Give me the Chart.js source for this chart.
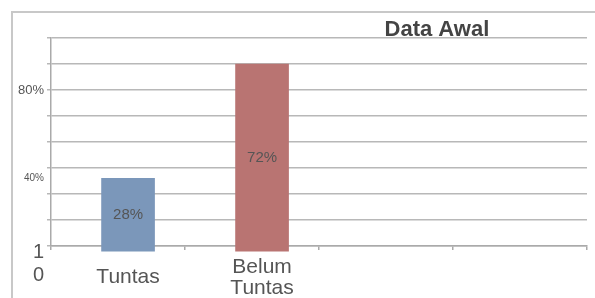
<!DOCTYPE html>
<html>
<head>
<meta charset="utf-8">
<script src="https://cdn.jsdelivr.net/npm/chart.js@4"></script>
<style>
  html, body { margin: 0; padding: 0; background: #fff; }
  #wrap { width: 595px; height: 298px; }
</style>
</head>
<body>
<div id="wrap"><canvas id="chart"></canvas></div>
<script>
const categories = ['Tuntas', ['Belum', 'Tuntas'], '', ''];
const values = [28, 72, null, null];
const barColors = ['#7b97ba', '#b97472'];

// y grid lines and the odd tick labels of the original
const gridValues = [2, 12, 22, 32, 42, 52, 62, 72, 82];
const labelValues = [62, 28, -0.5, -9.5];
const labelTexts = ['80%', '40%', '1', '0'];
const labelSizes = [13, 10, 20, 20];

const title = 'Data Awal';

// bars sit a little right of the category slots in the original
const xShift = 0.075;
const xMin = -0.5 - xShift;
const xMax = categories.length - 0.5 - xShift;

const FONT = '"Liberation Sans", Arial, sans-serif';

const frame = {
    id: 'frame',
    beforeDraw(chart) {
        const ctx = chart.ctx;
        ctx.save();
        ctx.strokeStyle = '#c8c8c8';
        ctx.lineWidth = 2;
        ctx.strokeRect(12, 12, 700, 400);
        ctx.restore();
    }
};

const barText = {
    id: 'barText',
    afterDatasetsDraw(chart) {
        const ctx = chart.ctx;
        const meta = chart.getDatasetMeta(0);
        ctx.save();
        ctx.fillStyle = '#555';
        ctx.font = '15px ' + FONT;
        ctx.textAlign = 'center';
        ctx.textBaseline = 'middle';
        meta.data.forEach((bar, i) => {
            if (values[i] == null) return;
            ctx.fillText(values[i] + '%', bar.x, (bar.y + bar.base) / 2);
        });
        ctx.restore();
    }
};

const titleText = {
    id: 'titleText',
    afterDraw(chart) {
        const a = chart.chartArea;
        const ctx = chart.ctx;
        ctx.save();
        ctx.fillStyle = '#444';
        ctx.font = 'bold 22px ' + FONT;
        ctx.textAlign = 'center';
        ctx.textBaseline = 'middle';
        ctx.fillText(title, a.left + (a.right - a.left) * 0.72, a.top - 8);
        ctx.restore();
    }
};

function tickValue(c) {
    return c && c.tick ? c.tick.value : null;
}

const ctx = document.getElementById('chart').getContext('2d');
new Chart(ctx, {
    type: 'bar',
    data: {
        datasets: [{
            data: categories.map((c, i) => ({ x: i, y: values[i] })),
            backgroundColor: barColors,
            borderWidth: 0,
            barThickness: 53,
            clip: false
        }]
    },
    options: {
        responsive: true,
        maintainAspectRatio: false,
        animation: false,
        layout: { padding: { top: 38, right: 8, left: 0, bottom: 0 } },
        plugins: {
            legend: { display: false },
            tooltip: { enabled: false }
        },
        scales: {
            x: {
                type: 'linear',
                offset: false,
                min: xMin,
                max: xMax,
                afterBuildTicks(scale) {
                    const ticks = [];
                    for (let k = 0; k <= categories.length; k++) ticks.push({ value: xMin + k });
                    categories.forEach((c, i) => ticks.push({ value: i }));
                    scale.ticks = ticks.sort((a, b) => a.value - b.value);
                },
                grid: {
                    display: true,
                    offset: false,
                    drawOnChartArea: false,
                    drawTicks: true,
                    tickLength: 4,
                    color: c => Number.isInteger(tickValue(c)) ? 'rgba(0,0,0,0)' : '#aaa',
                    lineWidth: 1.5
                },
                border: { display: true, color: '#aaa', width: 1.5 },
                ticks: {
                    color: '#555',
                    font: { size: 21, family: FONT, lineHeight: 1.0 },
                    padding: 17,
                    crossAlign: 'center',
                    maxRotation: 0,
                    autoSkip: false,
                    callback: value => Number.isInteger(value) ? categories[value] : ''
                },
                afterFit(scale) {
                    scale.height = 52;
                    scale.paddingLeft = 0;
                    scale.paddingRight = 0;
                }
            },
            y: {
                min: 2,
                max: 82,
                beginAtZero: true,
                afterBuildTicks(scale) {
                    const all = gridValues.concat(labelValues.filter(v => !gridValues.includes(v)));
                    scale.ticks = all.sort((a, b) => a - b).map(v => ({ value: v }));
                },
                afterFit(scale) {
                    scale.width = 51;
                    scale.paddingTop = 0;
                    scale.paddingBottom = 0;
                },
                grid: {
                    color: c => gridValues.includes(tickValue(c)) ? '#b8b8b8' : 'rgba(0,0,0,0)',
                    lineWidth: 1.5,
                    tickLength: 4
                },
                border: { display: true, color: '#aaa', width: 1.5 },
                ticks: {
                    autoSkip: false,
                    padding: 3,
                    color: '#555',
                    font: c => {
                        const i = labelValues.indexOf(tickValue(c));
                        return { size: i >= 0 ? labelSizes[i] : 10, family: FONT };
                    },
                    callback: value => {
                        const i = labelValues.indexOf(value);
                        return i >= 0 ? labelTexts[i] : '';
                    }
                }
            }
        }
    },
    plugins: [frame, barText, titleText]
});
</script>
</body>
</html>
